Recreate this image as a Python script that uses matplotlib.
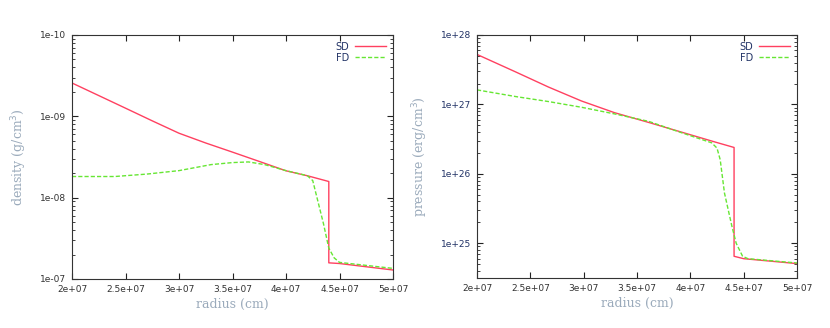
import matplotlib
matplotlib.use("Agg")
import matplotlib.pyplot as plt
from matplotlib.ticker import FixedLocator, LogLocator, NullFormatter

# radius (cm)
r_sd_rho = [2.0e7, 2.25e7, 2.5e7, 2.75e7, 3.0e7, 3.25e7, 3.5e7, 3.75e7, 4.0e7, 4.2e7, 4.4e7,
            4.4e7, 4.5e7, 5.0e7]
rho_sd = [2.57e9, 1.8e9, 1.26e9, 8.8e8, 6.2e8, 4.7e8, 3.63e8, 2.79e8, 2.14e8, 1.86e8, 1.58e8,
          1.58e7, 1.55e7, 1.29e7]

r_fd_rho = [2.0e7, 2.4e7, 2.7e7, 3.0e7, 3.3e7, 3.5e7, 3.65e7, 3.8e7, 4.0e7, 4.2e7,
            4.25e7, 4.35e7, 4.4e7, 4.45e7, 4.5e7, 5.0e7]
rho_fd = [1.82e8, 1.82e8, 1.95e8, 2.15e8, 2.55e8, 2.7e8, 2.75e8, 2.55e8, 2.15e8, 1.86e8,
          1.62e8, 4.8e7, 2.4e7, 1.82e7, 1.6e7, 1.35e7]

r_sd_p = [2.0e7, 2.36e7, 2.67e7, 2.98e7, 3.29e7, 3.61e7, 3.92e7, 4.23e7, 4.41e7, 4.41e7, 4.5e7, 5.0e7]
p_sd = [5.25e27, 2.95e27, 1.78e27, 1.12e27, 7.6e26, 5.5e26, 3.98e26, 2.88e26, 2.4e26,
        6.5e24, 6.0e24, 5.1e24]

r_fd_p = [2.0e7, 2.36e7, 2.67e7, 2.98e7, 3.29e7, 3.61e7, 3.92e7, 4.2e7, 4.25e7, 4.28e7,
          4.32e7, 4.39e7, 4.43e7, 4.49e7, 4.54e7, 5.0e7]
p_fd = [1.62e27, 1.3e27, 1.1e27, 9.1e26, 7.3e26, 5.7e26, 3.9e26, 2.8e26, 2.35e26, 1.6e26,
        5.3e25, 1.75e25, 1.0e25, 6.5e24, 6.0e24, 5.2e24]

x_ticks = [2.0e7, 2.5e7, 3.0e7, 3.5e7, 4.0e7, 4.5e7, 5.0e7]
x_labels = ["2e+07", "2.5e+07", "3e+07", "3.5e+07", "4e+07", "4.5e+07", "5e+07"]
rho_ticks = [1e7, 1e8, 1e9, 1e10]
rho_labels = ["1e-07", "1e-08", "1e-09", "1e-10"]
p_ticks = [1e25, 1e26, 1e27, 1e28]
p_labels = ["1e+25", "1e+26", "1e+27", "1e+28"]

red = "#ff4060"
green = "#66e633"
label_col = "#9aaabb"
serif = ["DejaVu Serif"]

fig = plt.figure(figsize=(8.3, 3.28), dpi=100)
ax1 = fig.add_axes([72/830, 1 - 279/328, 321/830, 244/328])
ax2 = fig.add_axes([477/830, 1 - 278/328, 320/830, 243/328])


def style(ax, yt, yl, tick_col):
    ax.set_yscale("log")
    ax.set_xlim(2e7, 5e7)
    ax.set_xticks(x_ticks)
    ax.set_xticklabels(x_labels, fontsize=6.5, color="#333333")
    ax.yaxis.set_major_locator(FixedLocator(yt))
    ax.set_yticklabels(yl, fontsize=6.5, color=tick_col)
    ax.yaxis.set_minor_locator(LogLocator(base=10, subs=range(2, 10)))
    ax.yaxis.set_minor_formatter(NullFormatter())
    ax.tick_params(which="both", direction="in", top=True, right=True, color="#222222")
    ax.tick_params(which="major", length=4, width=0.8, pad=4)
    ax.tick_params(which="minor", length=2, width=0.6)
    for s in ax.spines.values():
        s.set_color("#333333")
        s.set_linewidth(0.8)
    ax.set_xlabel("radius (cm)", fontsize=9, color=label_col, family=serif, labelpad=3)


ax1.plot(r_sd_rho, rho_sd, color=red, lw=1.0, label="SD")
ax1.plot(r_fd_rho, rho_fd, color=green, lw=1.0, ls=(0, (3, 1.5)), label="FD")
ax1.set_ylim(1e7, 1e10)
style(ax1, rho_ticks, rho_labels, "#333333")
ax1.set_ylabel("density (g/cm$^3$)", fontsize=9, color=label_col, family=serif, labelpad=8)

ax2.plot(r_sd_p, p_sd, color=red, lw=1.0, label="SD")
ax2.plot(r_fd_p, p_fd, color=green, lw=1.0, ls=(0, (3, 1.5)), label="FD")
ax2.set_ylim(10**24.5, 1e28)
style(ax2, p_ticks, p_labels, "#223366")
ax2.set_ylabel("pressure (erg/cm$^3$)", fontsize=9, color=label_col, family=serif, labelpad=8)

for ax in (ax1, ax2):
    leg = ax.legend(loc="upper right", frameon=False, markerfirst=False, fontsize=7,
                    handlelength=3.2, handletextpad=0.6, labelspacing=0.1,
                    borderaxespad=0.3)
    for t in leg.get_texts():
        t.set_color("#223366")

fig.savefig("out.png", dpi=100)
